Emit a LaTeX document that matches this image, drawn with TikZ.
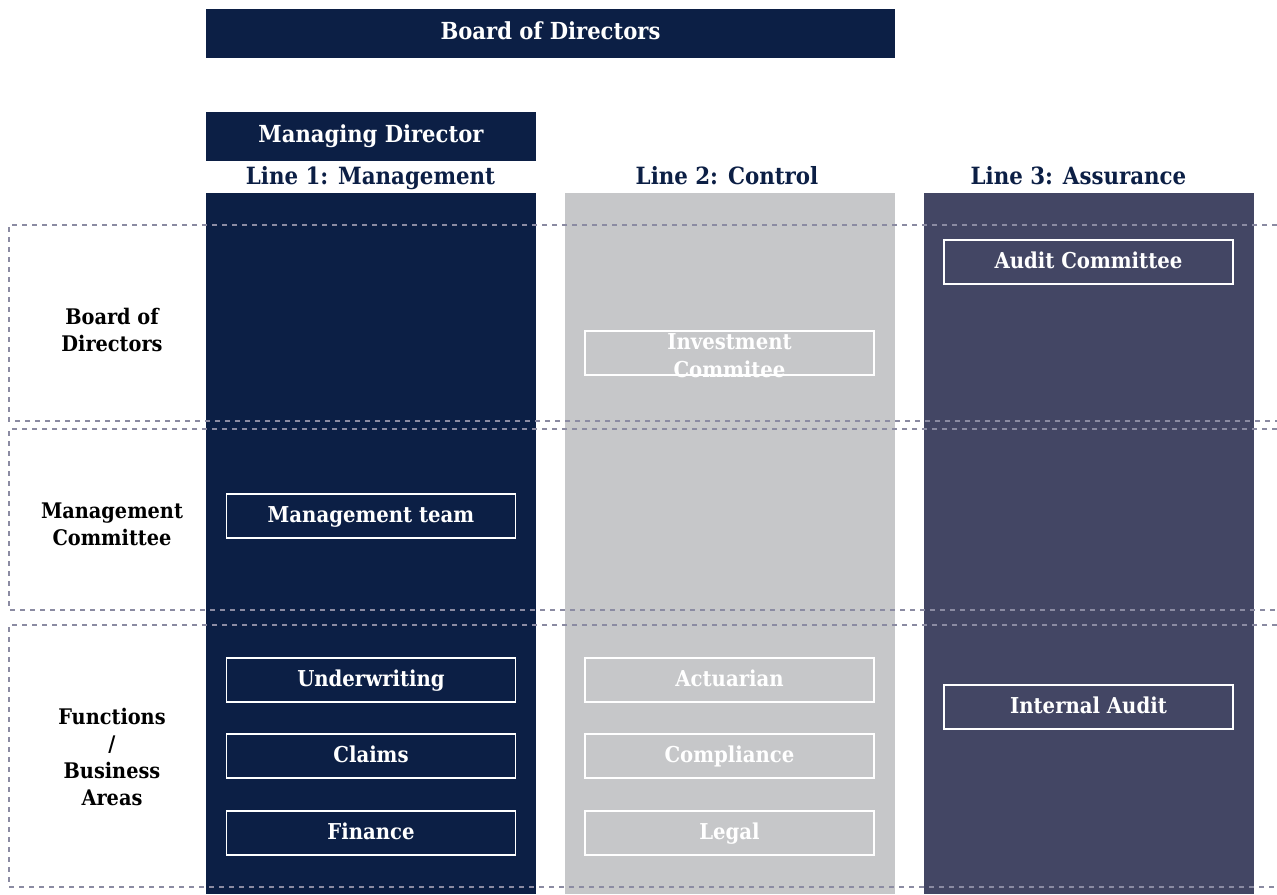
\documentclass[tikz,border=0pt]{standalone}
\usepackage{fontspec}
\setmainfont{DejaVu Serif Condensed}[BoldFont={DejaVu Serif Condensed Bold}]
\definecolor{navy}{HTML}{0C1F45}
\definecolor{ctrlgray}{HTML}{C6C7C9}
\definecolor{slate}{HTML}{434664}
\definecolor{dashgray}{HTML}{8B8BA2}
\tikzset{
  oneline/.style={text height=0.95em, text depth=0pt},
  banner/.style={fill=navy, text=white, inner sep=0pt, oneline, font=\bfseries\fontsize{17.6}{21}\selectfont},
  column/.style={fill=#1, draw=none, inner sep=0pt, minimum width=247.5pt, minimum height=525.75pt},
  linehead/.style={text=navy, inner sep=0pt, oneline, font=\bfseries\fontsize{17.8}{21}\selectfont},
  item/.style={draw=white, line width=0.9pt, text=white, inner sep=0pt, oneline,
    minimum width=216.75pt, minimum height=33pt, font=\bfseries\fontsize{16.4}{21}\selectfont},
  itemtext/.style={text=white, align=center, font=\bfseries\fontsize{16.4}{21}\selectfont},
  rowlabel/.style={text=black, align=center, font=\bfseries\fontsize{16.1}{20.25}\selectfont},
  rowline/.style={draw=dashgray, line width=1.5pt, dash pattern=on 3.75pt off 3.75pt}
}
\begin{document}
\begin{tikzpicture}[x=0.75pt, y=-0.75pt]
\useasboundingbox (0,0) rectangle (1277,894);

% top banners
\node[banner, minimum width=516.75pt, minimum height=36.75pt] (board) at (550.5,33.5) {Board of Directors};
\node[banner, minimum width=247.5pt, minimum height=36.75pt] (md) at (371,136.5) {Managing Director};

% the three lines
\node[column=navy] (col1) at (371,543.5) {};
\node[column=ctrlgray] (col2) at (730,543.5) {};
\node[column=slate] (col3) at (1089,543.5) {};

\node[linehead] (head1) at (370.5,178) {Line 1: Management};
\node[linehead] (head2) at (727,178) {Line 2: Control};
\node[linehead] (head3) at (1078.5,178) {Line 3: Assurance};

% governance rows
\draw[rowline] (1277,225) -- (9,225) -- (9,421) -- (1277,421);
\draw[rowline] (1277,429) -- (9,429) -- (9,610) -- (1277,610);
\draw[rowline] (1277,625) -- (9,625) -- (9,887) -- (1277,887);

\node[rowlabel] (rboard) at (112,329.5) {Board of\\Directors};
\node[rowlabel] (rmgmt) at (112,524.5) {Management\\Committee};
\node[rowlabel] (rfunc) at (112,757) {Functions\\/\\Business\\Areas};

% line 1 bodies
\node[item] (mteam) at (371,516) {Management team};
\node[item] (uw) at (371,680) {Underwriting};
\node[item] (claims) at (371,756) {Claims};
\node[item] (fin) at (371,833) {Finance};

% line 2 bodies
\node[item] (invbox) at (729.5,353) {};
\node[itemtext] (inv) at (729.5,356) {Investment\\Commitee};
\node[item] (act) at (729.5,680) {Actuarian};
\node[item] (comp) at (729.5,756) {Compliance};
\node[item] (legal) at (729.5,833) {Legal};

% line 3 bodies
\node[item] (audit) at (1088.5,262) {Audit Committee};
\node[item] (iaudit) at (1088.5,707) {Internal Audit};
\end{tikzpicture}
\end{document}
